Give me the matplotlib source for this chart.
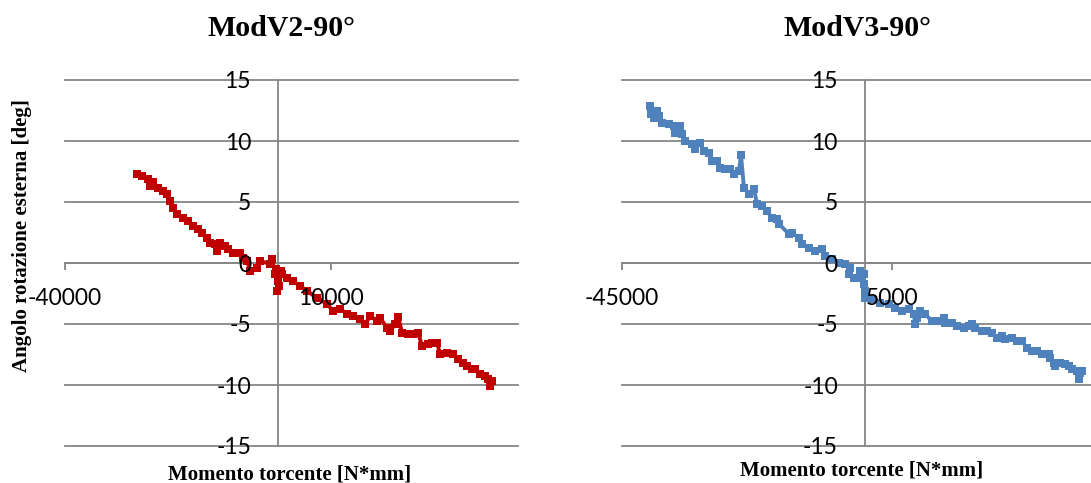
import matplotlib
matplotlib.use("Agg")
import matplotlib.pyplot as plt

# ModV2-90° : torque [N*mm] vs external rotation angle [deg]
v2_moment = [-26450, -25510, -24390, -24010, -23450, -22510, -21570, -20820, -20260,
             -19700, -18950, -17820, -16880, -15950, -15010, -14260, -13320, -12760,
             -11820, -11440, -10880, -9940, -9380, -8440, -7130, -6570, -5820, -5250,
             -3940, -3380, -1500, -1130, -560, -380, -190, 0, 190, 560, 750, 1690,
             2810, 4130, 5440, 7320, 9190, 10320, 11630, 12940, 14070, 15380, 16320,
             17260, 18570, 19140, 20450, 21010, 21950, 22510, 23260, 24390, 25330,
             26260, 27010, 28140, 28890, 29830, 30390, 31700, 32830, 33770, 34710,
             35460, 36390, 36960, 37900, 38830, 39400, 40150, 39770]
v2_angle = [7.30, 7.13, 6.89, 6.31, 6.64, 6.15, 5.90, 5.66, 5.08,
            4.51, 4.02, 3.69, 3.44, 3.03, 2.79, 2.46, 2.05, 1.64,
            1.56, 0.98, 1.64, 1.39, 1.15, 0.82, 0.82, 0.41, 0.16, -0.66,
            -0.41, 0.16, -0.08, 0.33, -0.90, -0.49, -2.30, -1.48, -1.89, -0.66, -0.90, -1.23,
            -1.48, -1.89, -2.30, -2.87, -3.36, -3.94, -3.77, -4.18, -4.35, -4.59, -5.00,
            -4.35, -4.76, -4.51, -5.33, -5.58, -5.00, -4.43, -5.74, -5.82, -5.82,
            -5.74, -6.81, -6.64, -6.56, -6.56, -7.46, -7.38, -7.46, -7.87, -8.20,
            -8.45, -8.69, -8.69, -9.10, -9.27, -9.51, -9.67, -10.08]

# ModV3-90°
v3_moment = [-39820, -39630, -39080, -38520, -38150, -37600, -36300, -35370, -35190,
             -34260, -33890, -33340, -32040, -31480, -30560, -29820, -28890, -28340,
             -27410, -26850, -25930, -25000, -24260, -23340, -22970, -22410, -21480,
             -20560, -20000, -19080, -18150, -17220, -16300, -15930, -14080, -13520,
             -12220, -11670, -10370, -9260, -7960, -7410, -6110, -4820, -3700, -2780,
             -2960, -2040, -1110, -930, -190, -190, 0, 0, 1300, 2780, 4450, 5560,
             6850, 8150, 9080, 9260, 9630, 10190, 11110, 12410, 13710, 14630, 14820,
             16110, 17040, 18340, 19260, 19820, 20370, 21670, 22590, 23520, 24450,
             25370, 25930, 27220, 28150, 29080, 30000, 30930, 31850, 32780, 34080,
             34260, 35000, 35190, 36110, 37040, 37780, 38340, 39260, 39820, 40190, 39630]
v3_angle = [12.87, 12.22, 11.89, 12.46, 12.05, 11.48, 11.40, 11.23, 10.66,
            11.23, 10.58, 10.00, 9.76, 9.35, 9.84, 9.18, 9.02, 8.36,
            8.36, 7.79, 7.71, 7.71, 7.30, 7.54, 8.86, 6.15, 5.66,
            6.07, 4.84, 4.67, 4.26, 3.69, 3.61, 3.20, 2.38, 2.46,
            2.05, 1.56, 1.23, 0.98, 1.15, 0.57, 0.33, 0.00, -0.08, -0.41,
            -0.90, -1.23, -1.23, -0.66, -0.90, -1.72, -2.30, -2.87, -2.95, -3.28, -3.36, -3.69,
            -3.94, -3.77, -4.18, -5.00, -4.51, -3.94, -4.18, -4.76, -4.76, -4.51, -4.92,
            -4.92, -5.17, -5.33, -5.17, -5.00, -5.33, -5.58, -5.58, -5.74, -6.15,
            -5.99, -6.23, -6.15, -6.40, -6.40, -6.97, -7.22, -7.22, -7.46, -7.46,
            -7.79, -8.20, -8.45, -8.20, -8.28, -8.45, -8.69, -8.86, -9.02, -8.86, -9.51]

y_ticks = [-15, -10, -5, 0, 5, 10, 15]
v2_xticks = [-40000, 10000]
v3_xticks = [-45000, 5000]

W, H = 1091, 483
fig = plt.figure(figsize=(W / 100, H / 100), dpi=100)
fig.patch.set_facecolor("white")

GRID = "#868686"
SERIF = ["Liberation Serif", "DejaVu Serif"]
SANS = ["Lato", "DejaVu Sans"]


def px_box(x0, x1, ytop, ybot):
    return [x0 / W, 1 - ybot / H, (x1 - x0) / W, (ybot - ytop) / H]


def excel_axes(rect, xlim, xticks, xs, ys, color):
    ax = fig.add_axes(rect)
    ax.set_xlim(*xlim)
    ax.set_ylim(-15, 15)
    ax.patch.set_alpha(0)
    for yv in y_ticks:
        ax.axhline(yv, color=GRID, lw=1.3, zorder=1, clip_on=False)
    for side in ("top", "right"):
        ax.spines[side].set_visible(False)
    ax.spines["left"].set_position(("data", 0))
    ax.spines["bottom"].set_position(("data", 0))
    for side in ("left", "bottom"):
        ax.spines[side].set_color(GRID)
        ax.spines[side].set_linewidth(1.3)
        ax.spines[side].set_zorder(1.5)
    ax.set_yticks(y_ticks)
    ax.set_yticklabels([str(v) for v in y_ticks])
    ax.set_xticks(xticks)
    ax.set_xticklabels([str(v) for v in xticks])
    ax.tick_params(axis="y", length=0, pad=19.5, labelsize=16.5)
    ax.tick_params(axis="x", length=5, width=1.3, color=GRID, direction="out",
                   pad=13, labelsize=16.5)
    for lab in ax.get_xticklabels() + ax.get_yticklabels():
        lab.set_family(SANS)
    ax.xaxis.set_zorder(4)
    ax.yaxis.set_zorder(4)
    ax.plot(xs, ys, color=color, lw=2.8, marker="s", markersize=6.3,
            markeredgewidth=0, zorder=3, clip_on=False)
    return ax


excel_axes(px_box(65, 518, 80, 446), (-40000, 45000), v2_xticks,
           v2_moment, v2_angle, "#C00000")
excel_axes(px_box(622, 1162, 80, 446), (-45000, 55000), v3_xticks,
           v3_moment, v3_angle, "#4F81BD")

fig.text(282 / W, 1 - 28 / H, "ModV2-90°", ha="center", va="center",
         family=SERIF, fontweight="bold", fontsize=21.5)
fig.text(857 / W, 1 - 28 / H, "ModV3-90°", ha="center", va="center",
         family=SERIF, fontweight="bold", fontsize=21.5)
fig.text(290 / W, 1 - 474 / H, "Momento torcente [N*mm]", ha="center", va="center",
         family=SERIF, fontweight="bold", fontsize=15)
fig.text(862 / W, 1 - 471 / H, "Momento torcente [N*mm]", ha="center", va="center",
         family=SERIF, fontweight="bold", fontsize=15)
fig.text(22 / W, 1 - 236 / H, "Angolo rotazione esterna [deg]", ha="center",
         va="center", rotation=90, family=SERIF, fontweight="bold", fontsize=15)

fig.savefig("out.png", dpi=100, facecolor="white")
